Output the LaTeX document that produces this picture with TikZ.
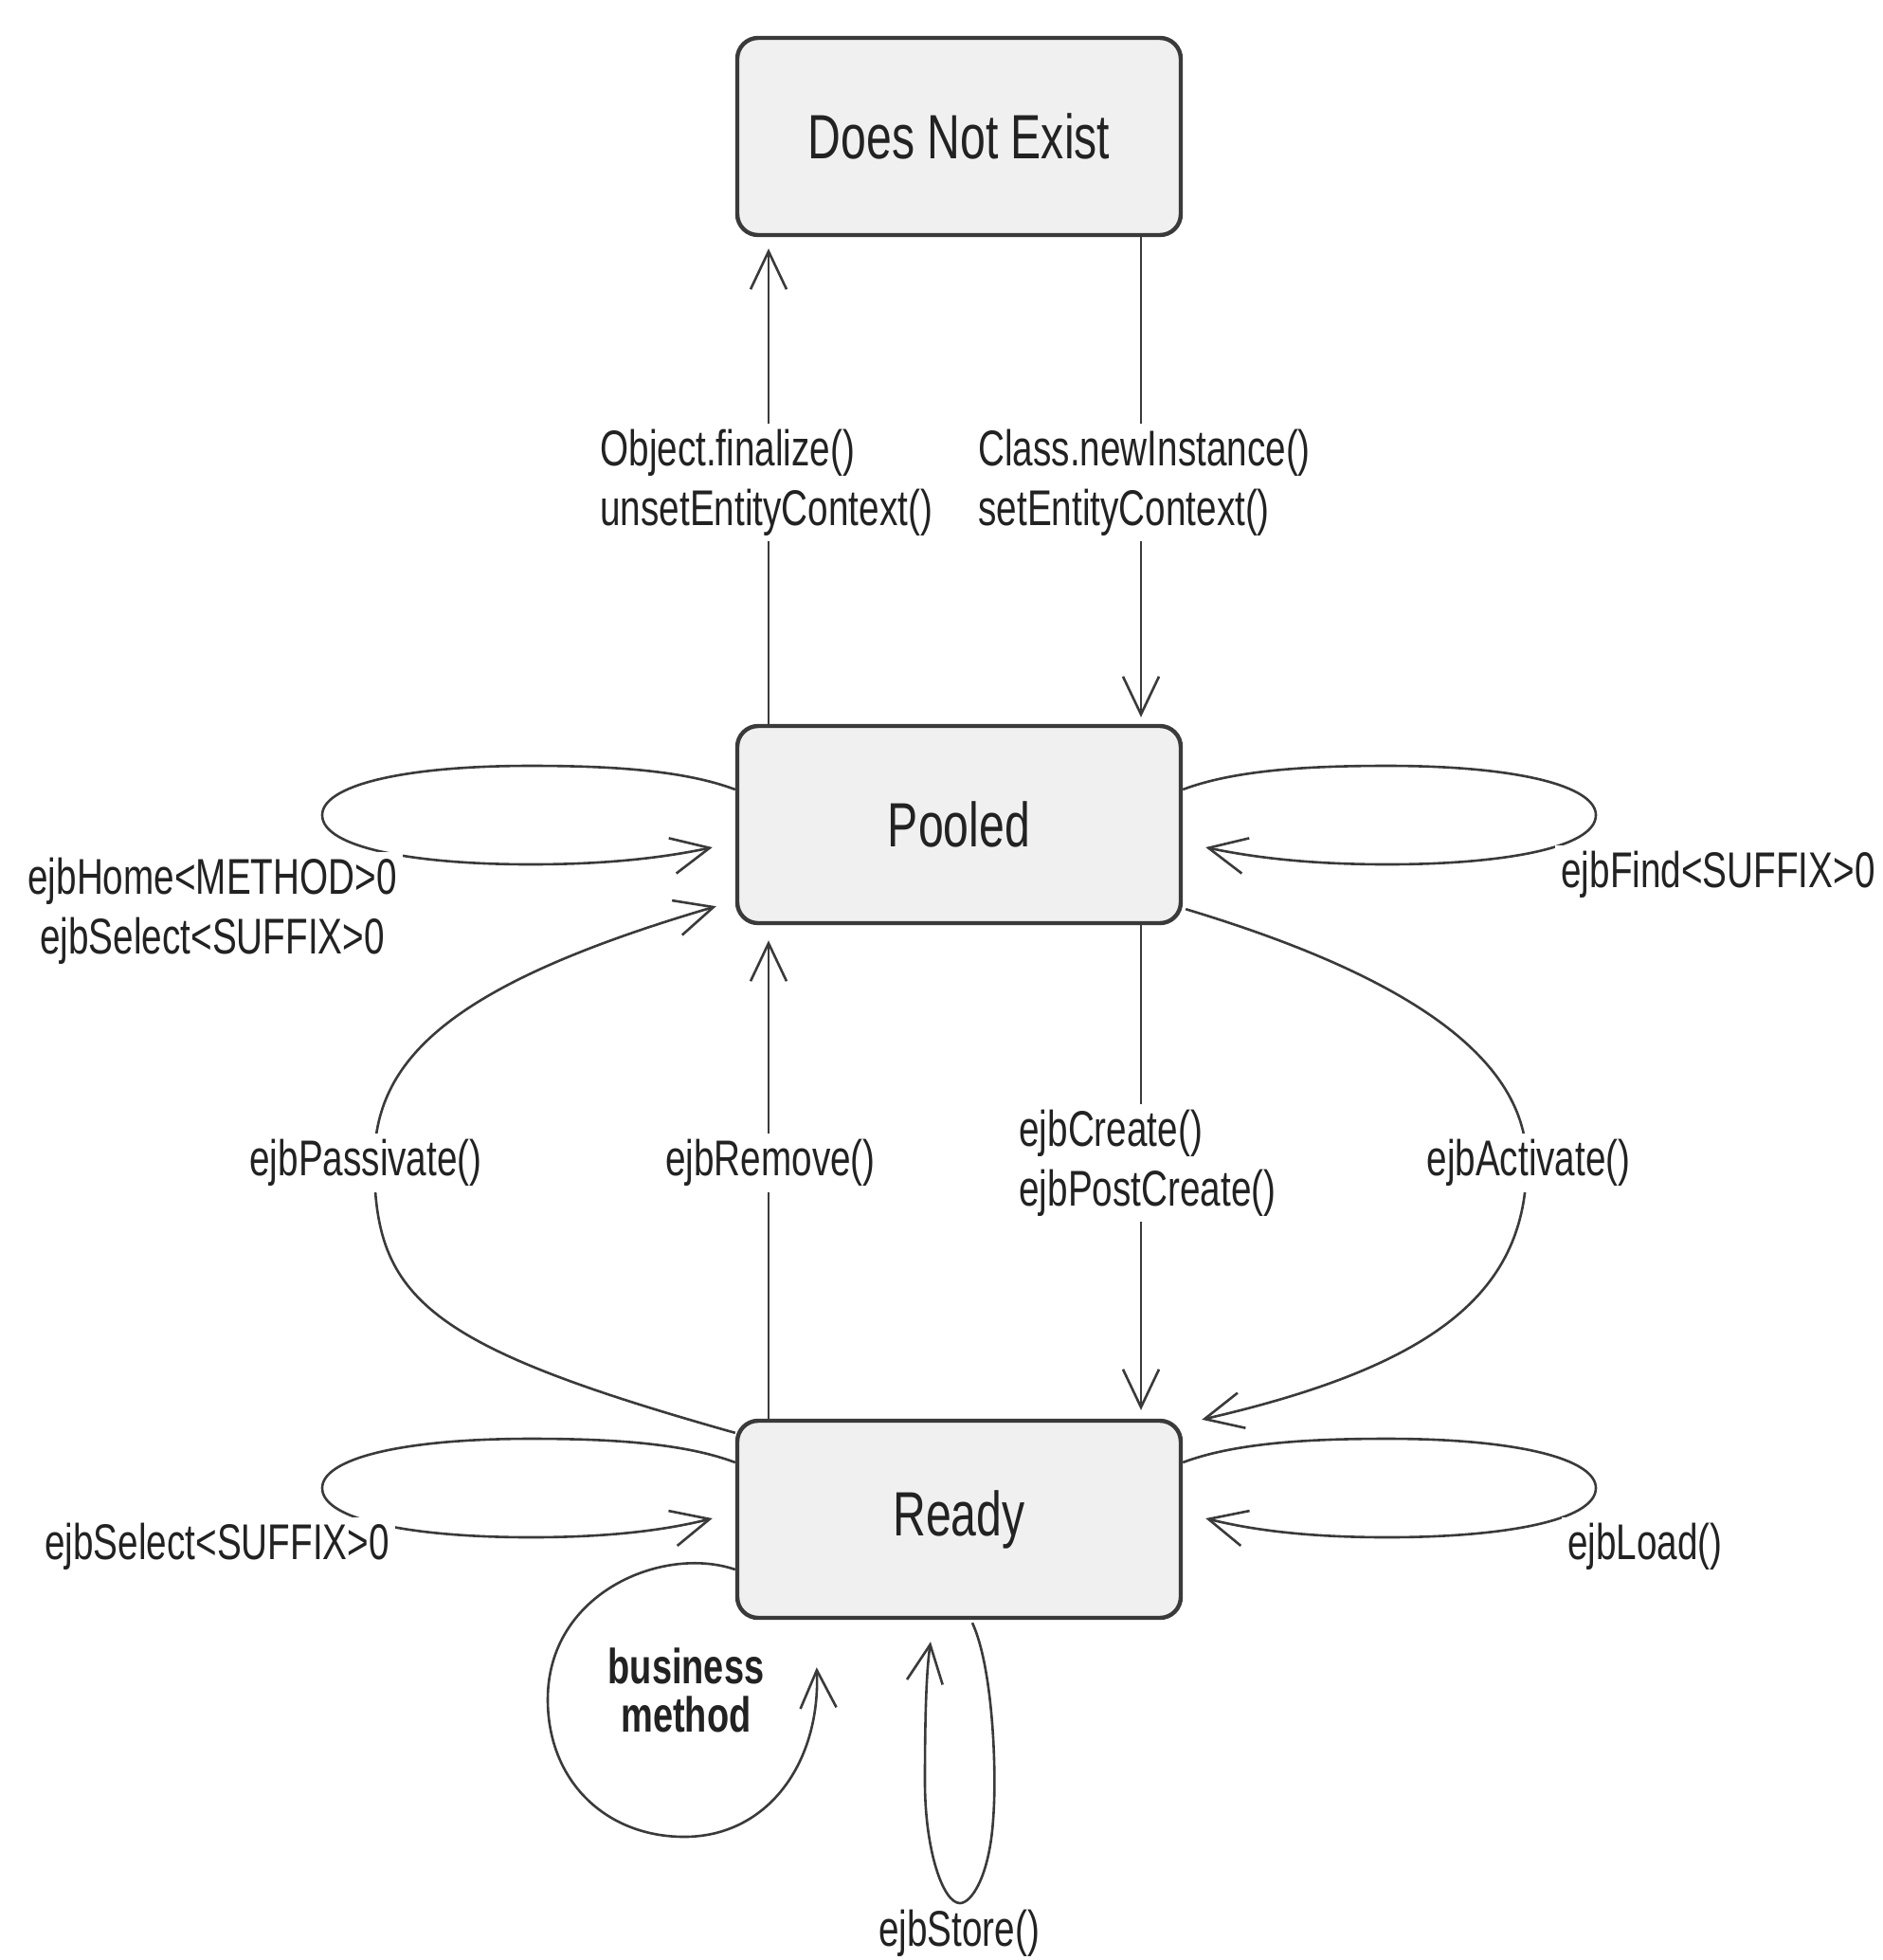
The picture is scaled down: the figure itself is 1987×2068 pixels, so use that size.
\documentclass[tikz,border=0pt]{standalone}
\usepackage{fontspec}
\setmainfont{Liberation Sans}[FakeStretch=0.73]
\usetikzlibrary{arrows.meta,calc}
\definecolor{boxfill}{HTML}{F0F0F0}
\definecolor{edgec}{HTML}{3A3A3A}
\definecolor{ink}{HTML}{222222}
\begin{document}
\begin{tikzpicture}[x=0.5pt,y=-0.5pt,
  state/.style={draw=edgec,line width=2.2pt,fill=boxfill,rounded corners=11pt,
    minimum width=234pt,minimum height=104pt,inner sep=0pt,text=ink,
    font=\fontsize{33}{38}\selectfont},
  conn/.style={draw=edgec,line width=1.3pt,-{Straight Barb[length=20pt,width=19pt]}},
  lab/.style={fill=white,text=ink,inner sep=3pt,font=\fontsize{26.5}{31.5}\selectfont},
  biz/.style={fill=white,text=ink,inner sep=3pt,align=center,font=\bfseries\fontsize{26}{25.5}\selectfont}
]
\useasboundingbox[fill=white] (0,0) rectangle (1987,2068);

% states
\node[state] (dne) at (1012,144) {Does Not Exist};
\node[state] (pooled) at (1012,870) {Pooled};
\node[state] (ready) at (1012,1603) {Ready};

% vertical transitions
\draw[conn] ($(pooled.north)+(-201,0)$) -- ($(dne.south)+(-201,12)$);
\draw[conn] ($(dne.south)+(192,0)$) -- ($(pooled.north)+(192,-7)$);
\draw[conn] ($(ready.north)+(-201,0)$) -- ($(pooled.south)+(-201,16)$);
\draw[conn] ($(pooled.south)+(192,0)$) -- ($(ready.north)+(192,-9)$);

% pooled self loops
\draw[conn] ($(pooled.west)+(0,-37)$) .. controls (720,812) and (640,808) .. (560,808)
  .. controls (420,808) and (340,830) .. (340,860)
  .. controls (340,895) and (440,912) .. (560,912)
  .. controls (640,912) and (700,905) .. ($(pooled.west)+(-24,24)$);
\draw[conn] ($(pooled.east)+(0,-37)$) .. controls (1304,812) and (1384,808) .. (1464,808)
  .. controls (1604,808) and (1684,830) .. (1684,860)
  .. controls (1684,895) and (1584,912) .. (1464,912)
  .. controls (1384,912) and (1324,905) .. ($(pooled.east)+(24,24)$);

% ready self loops
\draw[conn] ($(ready.west)+(0,-60)$) .. controls (720,1522) and (640,1518) .. (560,1518)
  .. controls (420,1518) and (340,1540) .. (340,1570)
  .. controls (340,1605) and (440,1622) .. (560,1622)
  .. controls (640,1622) and (700,1615) .. ($(ready.west)+(-24,-1)$);
\draw[conn] ($(ready.east)+(0,-60)$) .. controls (1304,1522) and (1384,1518) .. (1464,1518)
  .. controls (1604,1518) and (1684,1540) .. (1684,1570)
  .. controls (1684,1605) and (1584,1622) .. (1464,1622)
  .. controls (1384,1622) and (1324,1615) .. ($(ready.east)+(24,-1)$);

% passivate / activate
\draw[conn] ($(ready.north west)+(0,15)$) .. controls (450,1420) and (395,1370) .. (395,1226)
  .. controls (395,1120) and (470,1040) .. ($(pooled.south west)+(-20,-20)$);
\draw[conn] ($(pooled.south east)+(3,-17)$) .. controls (1470,1025) and (1611,1110) .. (1611,1226)
  .. controls (1611,1360) and (1520,1440) .. ($(ready.north east)+(20,1)$);

% business method loop
\draw[conn] ($(ready.west)+(0,53)$) .. controls (700,1630) and (578,1680) .. (578,1793)
  .. controls (578,1880) and (640,1938) .. (722,1938)
  .. controls (810,1938) and (866,1860) .. ($(ready.south west)+(86,50)$);

% ejbStore loop
\draw[conn] ($(ready.south)+(14,3)$) .. controls (1048,1760) and (1052,1870) .. (1048,1920)
  .. controls (1044,1980) and (1025,2008) .. (1013,2008)
  .. controls (995,2008) and (976,1952) .. (976,1880)
  .. controls (976,1800) and (978,1760) .. ($(ready.south)+(-30,23)$);

% labels
\node[lab,align=left,anchor=west] (lfin) at (627,509) {Object.finalize()\\unsetEntityContext()};
\node[lab,align=left,anchor=west] (lnew) at (1026,509) {Class.newInstance()\\setEntityContext()};
\node[lab,align=center] (lhome) at (224,961) {ejbHome<METHOD>0\\ejbSelect<SUFFIX>0};
\node[lab] (lfind) at (1813,923) {ejbFind<SUFFIX>0};
\node[lab] (lpass) at (386,1227) {ejbPassivate()};
\node[lab] (lrem) at (813,1227) {ejbRemove()};
\node[lab,align=left,anchor=west] (lcre) at (1069,1227) {ejbCreate()\\ejbPostCreate()};
\node[lab] (lact) at (1613,1227) {ejbActivate()};
\node[lab] (lsel) at (229,1632) {ejbSelect<SUFFIX>0};
\node[lab] (lload) at (1736,1632) {ejbLoad()};
\node[biz] (lbiz) at (724,1783) {business\\method};
\node[lab,inner sep=1pt] (lstore) at (1012,2040) {ejbStore()};
\end{tikzpicture}
\end{document}
